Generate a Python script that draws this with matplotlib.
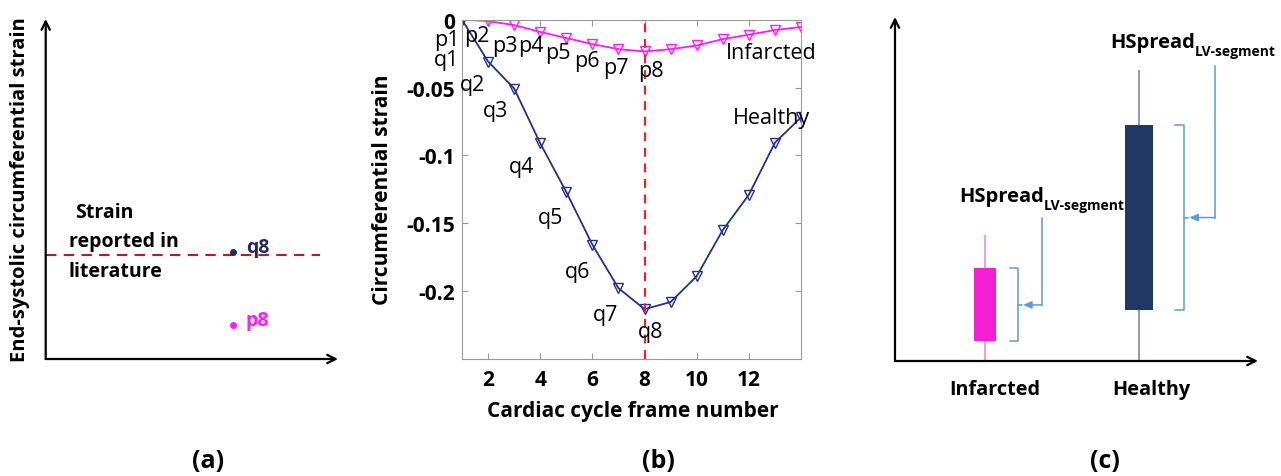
import numpy as np
import matplotlib
matplotlib.use('Agg')
from matplotlib import pyplot as plt

plt.rcParams['font.family'] = ['Open Sans', 'DejaVu Sans']

W, H = 1281, 477

# panel (b) data: strain over the cardiac cycle
frames = np.arange(1, 15)
infarcted = [0, -0.001, -0.004, -0.009, -0.0135, -0.018, -0.0217, -0.0234,
             -0.0217, -0.019, -0.0143, -0.011, -0.0076, -0.0054]
healthy = [0, -0.0308, -0.0507, -0.0911, -0.127, -0.1658, -0.1978, -0.2133,
           -0.208, -0.189, -0.155, -0.129, -0.0906, -0.072]
p_labels = ['p1', 'p2', 'p3', 'p4', 'p5', 'p6', 'p7', 'p8']
p_pos = [(0.42, -0.0145), (1.56, -0.0115), (2.65, -0.019), (3.64, -0.019),
         (4.67, -0.024), (5.8, -0.030), (6.92, -0.035), (8.26, -0.0377)]
q_labels = ['q1', 'q2', 'q3', 'q4', 'q5', 'q6', 'q7', 'q8']
q_pos = [(0.41, -0.0295), (1.4, -0.0475), (2.3, -0.067), (3.3, -0.108),
         (4.38, -0.146), (5.43, -0.1855), (6.52, -0.2175), (8.25, -0.2298)]
end_frame = 8
xticks_b = [2, 4, 6, 8, 10, 12]
yticks_b = [0, -0.05, -0.1, -0.15, -0.2]
yticklabels_b = ['0', '-0.05', '-0.1', '-0.15', '-0.2']

# panel (a) schematic values (arbitrary units 0..10)
es_x = [6.4, 6.4]
es_y = [3.15, 1.0]
es_names = ['q8', 'p8']
literature_y = 3.06

# panel (c) schematic box values (arbitrary units 0..10)
groups = ['Infarcted', 'Healthy']
box_pos = [2.48, 6.72]
box_w = [0.63, 0.78]
box_lo = [0.57, 1.48]
box_hi = [2.69, 6.86]
whisk_lo = [0, 0]
whisk_hi = [3.67, 8.46]

navy = '#23308c'
magenta = '#ff1aff'
light_blue = '#5b9bd5'


def fx(x):
    return x / W


def fy(y):
    return 1 - y / H


fig = plt.figure(figsize=(W / 100, H / 100), dpi=100)

# ---------------- panel (a)
ax_a = fig.add_axes([fx(45.7), fy(360), (338 - 45.7) / W, (360 - 20) / H])
ax_a.set_xlim(0, 10)
ax_a.set_ylim(0, 10)
ax_a.axis('off')
arrow = dict(arrowstyle='->,head_length=0.6,head_width=0.3', lw=1.6, color='black',
             shrinkA=0, shrinkB=0)
ax_a.annotate('', xy=(10, 0), xytext=(0, 0), arrowprops=arrow, annotation_clip=False)
ax_a.annotate('', xy=(0, 10), xytext=(0, 0), arrowprops=arrow, annotation_clip=False)
ax_a.plot([0, 9.4], [literature_y, literature_y], color='#c0181c', lw=1.5,
          ls=(0, (5, 3.5)), clip_on=False)
for x, y, n, c in zip(es_x, es_y, es_names, ['#1f2d5c', magenta]):
    ax_a.plot(x, y, 'o', color=c, ms=4)
    ax_a.text(x + 0.45, y + 0.15, n, color=c, fontsize=14, fontweight='bold',
              ha='left', va='center')
fig.text(fx(75), fy(213), 'Strain', fontsize=14, fontweight='bold', ha='left', va='center')
fig.text(fx(69), fy(242), 'reported in', fontsize=14, fontweight='bold', ha='left', va='center')
fig.text(fx(69), fy(272), 'literature', fontsize=14, fontweight='bold', ha='left', va='center')
fig.text(fx(20), fy(190), 'End-systolic circumferential strain', rotation=90, fontsize=14.5,
         fontweight='bold', ha='center', va='center')

# ---------------- panel (b)
ax_b = fig.add_axes([fx(462), fy(360), (801 - 462) / W, (360 - 20.7) / H])
ax_b.plot(frames, infarcted, '-v', color=magenta, mfc='none', ms=7, lw=1.3, mew=1)
ax_b.plot(frames, healthy, '-v', color=navy, mfc='none', ms=7, lw=1.3, mew=1)
ax_b.axvline(end_frame, color='#e8262a', lw=1.6, ls=(0, (4, 3)))
ax_b.set_xlim(1, 14)
ax_b.set_ylim(-0.25, 0)
ax_b.set_xticks(xticks_b)
ax_b.set_yticks(yticks_b)
ax_b.set_yticklabels(yticklabels_b)
ax_b.tick_params(direction='in', top=True, right=True, colors='#9a9a9a',
                 labelcolor='black', labelsize=15, length=4)
ax_b.tick_params(axis='x', pad=7)
ax_b.tick_params(axis='y', pad=5)
for lab in ax_b.get_xticklabels() + ax_b.get_yticklabels():
    lab.set_fontweight('bold')
for s in ax_b.spines.values():
    s.set_color('#9a9a9a')
for lab, (x, y) in zip(p_labels, p_pos):
    ax_b.text(x, y, lab, fontsize=15.5, ha='center', va='center', clip_on=False)
for lab, (x, y) in zip(q_labels, q_pos):
    ax_b.text(x, y, lab, fontsize=15.5, ha='center', va='center', clip_on=False)
ax_b.text(12.87, -0.024, 'Infarcted', fontsize=15.5, ha='center', va='center')
ax_b.text(12.87, -0.072, 'Healthy', fontsize=15.5, ha='center', va='center')
fig.text(fx(383), fy(190), 'Circumferential strain', rotation=90, fontsize=15,
         fontweight='bold', ha='center', va='center')
fig.text(fx(633), fy(412), 'Cardiac cycle frame number', fontsize=15,
         fontweight='bold', ha='center', va='center')

# ---------------- panel (c)
ax_c = fig.add_axes([fx(895), fy(362), (1258 - 895) / W, (362 - 18) / H])
ax_c.set_xlim(0, 10)
ax_c.set_ylim(0, 10)
ax_c.axis('off')
ax_c.annotate('', xy=(10, 0), xytext=(0, 0), arrowprops=arrow, annotation_clip=False)
ax_c.annotate('', xy=(0, 10), xytext=(0, 0), arrowprops=arrow, annotation_clip=False)
ax_c.vlines(box_pos, whisk_lo, whisk_hi, colors=['#f58ce8', '#8593ad'], lw=1.3, zorder=1)
ax_c.bar(box_pos, np.subtract(box_hi, box_lo), bottom=box_lo, width=box_w,
         color=['#f21fd3', '#203864'], zorder=2)

# curly brackets + pointer arrows
br_x0 = [3.17, 7.71]
br_x1 = [3.38, 7.96]
ptr_x = [4.04, 8.82]
ptr_top = [4.17, 8.58]
for i in range(2):
    lo, hi = box_lo[i], box_hi[i]
    mid = (lo + hi) / 2
    ax_c.plot([br_x0[i], br_x1[i], br_x1[i], br_x0[i]], [hi, hi, lo, lo],
              color=light_blue, lw=1.1)
    ax_c.plot([br_x1[i], br_x1[i] + 0.12], [mid, mid], color=light_blue, lw=1.1)
    ax_c.plot([ptr_x[i], ptr_x[i]], [ptr_top[i], mid], color=light_blue, lw=1.1)
    ax_c.annotate('', xy=(br_x1[i] + 0.15, mid), xytext=(ptr_x[i], mid),
                  arrowprops=dict(arrowstyle='-|>,head_length=0.5,head_width=0.22',
                                  color=light_blue, lw=1.1, shrinkA=0, shrinkB=0))

for x, y in [(fx(959), fy(197)), (fx(1110), fy(43))]:
    t = fig.text(x, y, 'HSpread', fontsize=14.5, fontweight='bold', ha='left', va='center')
    fig.canvas.draw()
    ax_c.annotate('LV-segment', xy=(1, 0), xycoords=t, xytext=(0, -4),
                  textcoords='offset points', fontsize=10, fontweight='bold',
                  ha='left', va='bottom')

ax_c.text(2.75, -0.82, groups[0], fontsize=14.3, fontweight='bold', ha='center', va='center')
ax_c.text(7.07, -0.82, groups[1], fontsize=14.3, fontweight='bold', ha='center', va='center')

# panel letters
for x, lab in [(208, '(a)'), (658, '(b)'), (1105, '(c)')]:
    fig.text(fx(x), fy(462), lab, fontsize=18, fontweight='bold', ha='center', va='center')

fig.savefig('out.png', dpi=100)
